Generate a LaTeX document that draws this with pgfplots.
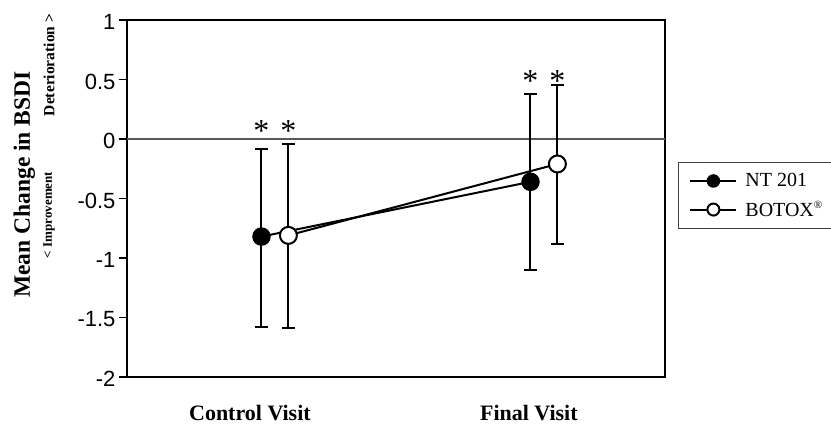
\documentclass[border=0pt]{standalone}
\usepackage{fontspec}
\setmainfont{Liberation Serif}
\newfontfamily\arial{Liberation Sans}
\usepackage{pgfplots}
\pgfplotsset{compat=1.18}
\begin{document}
\begin{tikzpicture}
\useasboundingbox (-127pt,-48pt) rectangle (704pt,377pt);
\begin{axis}[
  at={(0,0)}, anchor=south west,
  scale only axis, width=538pt, height=357pt,
  xmin=0, xmax=2, ymin=-2, ymax=1,
  ytick={-2,-1.5,-1,-0.5,0,0.5,1},
  yticklabels={-2,-1.5,-1,-0.5,0,0.5,1},
  ytick pos=left, tick align=outside, major tick length=8pt,
  yticklabel style={font=\arial\fontsize{22}{22}\selectfont, yshift=-2pt},
  xtick={0.457,1.494}, xticklabels={Control Visit,Final Visit},
  x tick style={draw=none},
  xticklabel style={font=\bfseries\fontsize{22}{22}\selectfont, yshift=-17pt},
  axis line style={line width=1.8pt},
  tick style={line width=1.4pt, black},
  clip=false,
  legend style={at={(rel axis cs:1.024,0.602)}, anchor=north west, draw=black!75, line width=1pt,
    font=\fontsize{20}{20}\selectfont, row sep=7pt, inner xsep=8pt, inner ysep=8pt,
    nodes={inner sep=3pt, font=\fontsize{20}{20}\selectfont}},
  legend cell align=left,
  legend image code/.code={\path (0pt,0pt) (54pt,0pt); \draw[mark repeat=2,mark phase=2] plot coordinates {(3pt,0pt) (26pt,0pt) (49pt,0pt)};},
  legend image post style={mark size=6pt},
]
\draw[gray!70!black, line width=1.5pt] (axis cs:0,0) -- (axis cs:2,0);
\addplot[black, line width=2pt, mark=*, mark size=8.5pt, mark options={fill=black, line width=1.5pt},
  error bars/.cd, y dir=both, y explicit,
  error bar style={line width=2pt, black},
  error mark options={rotate=90, mark size=6.3pt, line width=2pt}]
  coordinates {
  (0.5,-0.82) += (0,0.74) -= (0,0.76)
  (1.5,-0.36) += (0,0.74) -= (0,0.74)
  };
\addlegendentry{NT 201}
\addplot[black, line width=2pt, mark=*, mark size=8.5pt, mark options={fill=white, line width=2pt},
  error bars/.cd, y dir=both, y explicit,
  error bar style={line width=2pt, black},
  error mark options={rotate=90, mark size=6.3pt, line width=2pt}]
  coordinates {
  (0.6,-0.81) += (0,0.765) -= (0,0.78)
  (1.6,-0.21) += (0,0.66) -= (0,0.67)
  };
\addlegendentry{BOTOX\textsuperscript{\fontsize{11}{11}\selectfont\textregistered}\hspace*{6pt}}
\node[font=\fontsize{32}{32}\selectfont, inner sep=0pt] at (axis cs:0.5,0.067) {*};
\node[font=\fontsize{32}{32}\selectfont, inner sep=0pt] at (axis cs:0.6,0.067) {*};
\node[font=\fontsize{32}{32}\selectfont, inner sep=0pt] at (axis cs:1.5,0.487) {*};
\node[font=\fontsize{32}{32}\selectfont, inner sep=0pt] at (axis cs:1.6,0.487) {*};
\node[rotate=90, font=\bfseries\fontsize{23.5}{23.5}\selectfont] at (rel axis cs:-0.191,0.539) {Mean Change in BSDI};
\node[rotate=90, font=\bfseries\fontsize{13}{13}\selectfont] at (rel axis cs:-0.145,0.454) {< Improvement};
\node[rotate=90, font=\bfseries\fontsize{15.5}{15.5}\selectfont] at (rel axis cs:-0.145,0.874) {Deterioration >};
\end{axis}
\end{tikzpicture}
\end{document}
